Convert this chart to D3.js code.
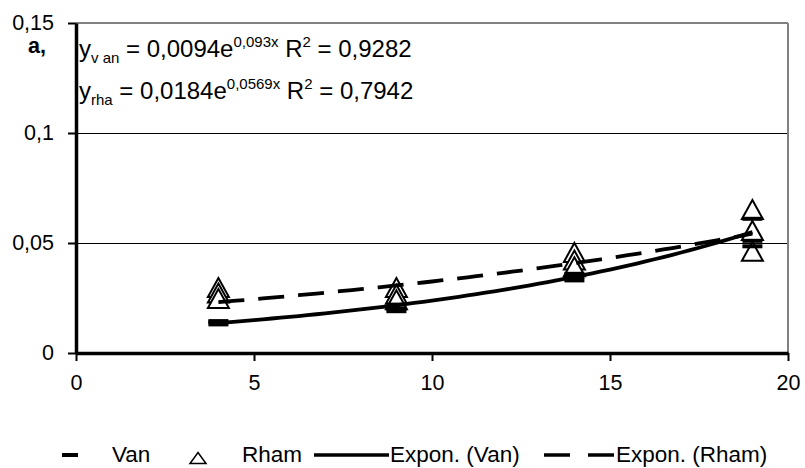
<!DOCTYPE html>
<html lang="en">
<head>
  <meta charset="utf-8">
  <title>Van / Rham</title>
  <style>
    body { margin: 0; background: #fff; }
    svg text { font-family: "Liberation Sans", Arial, sans-serif; fill: #000; }
  </style>
</head>
<body>
  <div id="chart-area"></div>

  <script src="https://cdnjs.cloudflare.com/ajax/libs/d3/7.8.5/d3.min.js"></script>
  <script>
    // data (three replicates per day)
    var vanX  = [4, 4, 4, 9, 9, 9, 14, 14, 14, 19, 19, 19];
    var vanY  = [0.0130, 0.0140, 0.0145, 0.0220, 0.0200, 0.0190, 0.0360, 0.0345, 0.0330, 0.0610, 0.0510, 0.0485];
    var rhamX = [4, 4, 4, 9, 9, 9, 14, 14, 14, 19, 19, 19];
    var rhamY = [0.0295, 0.0270, 0.0245, 0.0295, 0.0265, 0.0240, 0.0455, 0.0420, 0.0390, 0.0650, 0.0555, 0.0460];

    // trendline coefficients, as printed on the chart: y = a * e^(b x)
    var vanFit  = [0.0094, 0.093];
    var rhamFit = [0.0184, 0.0569];
    var fitRange = [4, 19];

    var xTicks = [0, 5, 10, 15, 20];
    var xTickLabels = ["0", "5", "10", "15", "20"];
    var yTicks = [0, 0.05, 0.1, 0.15];
    var yTickLabels = ["0", "0,05", "0,1", "0,15"];

    var legendLabels = ["Van", "Rham", "Expon. (Van)", "Expon. (Rham)"];

    var svgWidth = 805, svgHeight = 468;
    var margin = { top: 23, left: 76, bottom: 115, right: 17 };
    var width = svgWidth - margin.left - margin.right;
    var height = svgHeight - margin.top - margin.bottom;

    var svg = d3.select("#chart-area")
                .append("svg")
                .attr("width", svgWidth)
                .attr("height", svgHeight);

    var g = svg.append("g")
               .attr("transform", "translate(" + margin.left + "," + margin.top + ")");

    var x = d3.scaleLinear().domain([0, 20]).range([0, width]);
    var y = d3.scaleLinear().domain([0, 0.15]).range([height, 0]);

    // grid lines
    g.selectAll("line.grid")
     .data([0.05, 0.1])
     .enter().append("line")
     .attr("class", "grid")
     .attr("x1", 0).attr("x2", width)
     .attr("y1", d => y(d) + 0.5).attr("y2", d => y(d) + 0.5)
     .attr("stroke", "#000").attr("stroke-width", 1.2);

    // plot frame (top / right, grey)
    g.append("line")
     .attr("x1", 0).attr("x2", width).attr("y1", 0).attr("y2", 0)
     .attr("stroke", "#808080").attr("stroke-width", 2);
    g.append("line")
     .attr("x1", width).attr("x2", width).attr("y1", 0).attr("y2", height)
     .attr("stroke", "#808080").attr("stroke-width", 2);

    // axes
    var yAxis = d3.axisLeft(y)
                  .tickValues(yTicks)
                  .tickFormat((d, i) => yTickLabels[i])
                  .tickSize(8).tickSizeOuter(0).tickPadding(14);
    var yG = g.append("g").attr("class", "y-axis").call(yAxis);

    var xAxis = d3.axisBottom(x)
                  .tickValues(xTicks)
                  .tickFormat((d, i) => xTickLabels[i])
                  .tickSize(8).tickSizeOuter(0).tickPadding(14);
    var xG = g.append("g").attr("class", "x-axis")
              .attr("transform", "translate(0," + height + ")")
              .call(xAxis);

    [yG, xG].forEach(function(ax) {
      ax.select(".domain").attr("stroke", "#000").attr("stroke-width", 3.5);
      ax.selectAll(".tick line").attr("stroke", "#000").attr("stroke-width", 2);
      ax.selectAll(".tick text")
        .style("font-family", "'Liberation Sans', Arial, sans-serif")
        .style("font-size", "21.5px").attr("fill", "#000");
    });

    // markers
    var triPath = "M0,-10L10.5,9L-10.5,9Z";

    g.selectAll("path.rham")
     .data(rhamY)
     .enter().append("path")
     .attr("class", "rham")
     .attr("d", triPath)
     .attr("transform", (d, i) => "translate(" + x(rhamX[i]) + "," + y(d) + ")")
     .attr("fill", "#fff").attr("stroke", "#000").attr("stroke-width", 2);

    g.selectAll("rect.van")
     .data(vanY)
     .enter().append("rect")
     .attr("class", "van")
     .attr("x", (d, i) => x(vanX[i]) - 10)
     .attr("y", d => y(d) - 2)
     .attr("width", 20).attr("height", 4)
     .attr("fill", "#000");

    // exponential trendlines
    var steps = d3.range(fitRange[0], fitRange[1] + 0.001, 0.25);
    function fitLine(c) {
      return d3.line()
               .x(t => x(t))
               .y(t => y(c[0] * Math.exp(c[1] * t)))(steps);
    }

    g.append("path")
     .attr("d", fitLine(vanFit))
     .attr("fill", "none").attr("stroke", "#000").attr("stroke-width", 3.8);

    g.append("path")
     .attr("d", fitLine(rhamFit))
     .attr("fill", "none").attr("stroke", "#000").attr("stroke-width", 3.8)
     .attr("stroke-dasharray", "26,14");

    // equations
    function equation(baseY, sub, a, b, r2) {
      var t = svg.append("text").attr("x", 79).attr("y", baseY).style("font-size", "24px");
      t.append("tspan").text("y");
      t.append("tspan").attr("dy", 6).style("font-size", "15px").text(sub);
      t.append("tspan").attr("dy", -6).text(" = " + a + "e");
      t.append("tspan").attr("dy", -10).style("font-size", "15px").text(b + "x");
      t.append("tspan").attr("dy", 10).text(" R");
      t.append("tspan").attr("dy", -10).style("font-size", "15px").text("2");
      t.append("tspan").attr("dy", 10).text(" = " + r2);
    }
    equation(57, "v an", "0,0094", "0,093", "0,9282");
    equation(99, "rha", "0,0184", "0,0569", "0,7942");

    svg.append("text")
       .attr("x", 28).attr("y", 53)
       .style("font-size", "21.5px").style("font-weight", "bold")
       .text("a,");

    // legend
    var ly = 455;
    var leg = svg.append("g").attr("class", "legend");
    leg.append("rect").attr("x", 62).attr("y", ly - 2).attr("width", 16).attr("height", 4).attr("fill", "#000");
    leg.append("path").attr("d", "M0,-5.5L8,5.5L-8,5.5Z")
       .attr("transform", "translate(198," + (ly + 3) + ")")
       .attr("fill", "#fff").attr("stroke", "#000").attr("stroke-width", 1.5);
    leg.append("line").attr("x1", 314).attr("x2", 389).attr("y1", ly).attr("y2", ly)
       .attr("stroke", "#000").attr("stroke-width", 3.5);
    leg.append("line").attr("x1", 544).attr("x2", 614).attr("y1", ly).attr("y2", ly)
       .attr("stroke", "#000").attr("stroke-width", 3.5).attr("stroke-dasharray", "26,18");

    var legX = [112, 242, 390, 616];
    leg.selectAll("text")
       .data(legendLabels)
       .enter().append("text")
       .attr("x", (d, i) => legX[i])
       .attr("y", 462)
       .style("font-size", "22.5px")
       .text(d => d);
  </script>
</body>
</html>
